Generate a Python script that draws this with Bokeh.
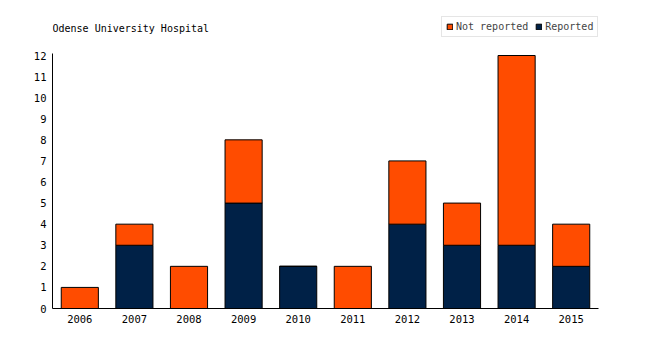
from bokeh.plotting import figure
from bokeh.models import FactorRange, Range1d, FixedTicker, Legend, LegendItem, ColumnDataSource, Label
from bokeh.embed import file_html
from bokeh.resources import INLINE

years = ["2006", "2007", "2008", "2009", "2010", "2011", "2012", "2013", "2014", "2015"]
reported = [0, 3, 0, 5, 2, 0, 4, 3, 3, 2]
not_reported = [1, 1, 2, 3, 0, 2, 3, 2, 9, 2]
y_ticks = list(range(0, 13))

FONT = "DejaVu Sans Mono"
ORANGE = "#ff4c00"
NAVY = "#002147"

src = ColumnDataSource(dict(years=years, reported=reported, not_reported=not_reported))

PX_PER_UNIT = 253 / 12.0
FRAME_H = 298
p = figure(x_range=FactorRange(*years, range_padding=0), y_range=Range1d(0, FRAME_H / PX_PER_UNIT),
           width=650, height=350, frame_width=546, frame_height=FRAME_H,
           min_border_left=52, min_border_right=52, min_border_top=10, min_border_bottom=42,
           output_backend="svg", toolbar_location=None)

r = p.vbar_stack(["reported", "not_reported"], x="years", width=0.68, source=src,
                 color=[NAVY, ORANGE], line_color="black", line_width=1)

p.xgrid.visible = False
p.ygrid.visible = False
p.outline_line_color = None

for ax in (p.xaxis[0], p.yaxis[0]):
    ax.major_tick_line_color = None
    ax.minor_tick_line_color = None
    ax.major_tick_in = 0
    ax.major_tick_out = 0
    ax.minor_tick_in = 0
    ax.minor_tick_out = 0
    ax.axis_line_color = "black"
    ax.major_label_text_font = FONT
    ax.major_label_text_font_size = "10.5px"
    ax.major_label_text_color = "black"
    ax.major_label_standoff = 6
p.yaxis[0].ticker = FixedTicker(ticks=y_ticks)
p.yaxis[0].bounds = (0, 12.1)

title = Label(x=0, y=12 + 27 / PX_PER_UNIT, text="Odense University Hospital",
              text_font=FONT, text_font_size="10px", text_color="black",
              text_align="left", text_baseline="middle")
p.add_layout(title)

legend = Legend(items=[LegendItem(label="Not reported", renderers=[r[1]]),
                       LegendItem(label="Reported", renderers=[r[0]])],
                orientation="horizontal", location=(389, 271),
                label_text_font=FONT, label_text_font_size="10px", label_text_color="#444444",
                glyph_width=7, glyph_height=7, label_standoff=3, spacing=7,
                padding=4, margin=0, border_line_color="#cccccc", label_height=8,
                label_text_baseline="middle")
p.add_layout(legend)

open("out.html", "w").write(file_html(p, INLINE))
